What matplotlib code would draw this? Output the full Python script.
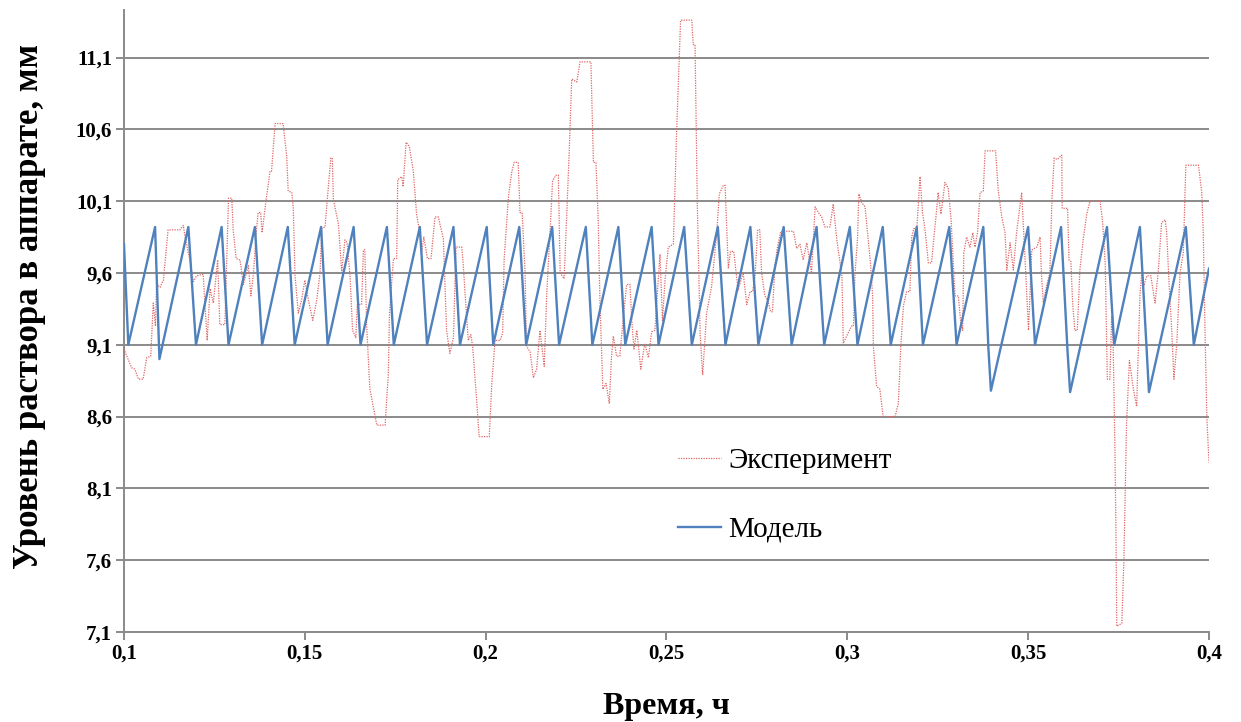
import matplotlib
matplotlib.use("Agg")
import matplotlib.pyplot as plt
from matplotlib.ticker import FuncFormatter

plt.rcParams['font.family'] = 'Liberation Serif'

# Экспериментальный уровень (время, ч / уровень, мм)
exp_t = [0.1000, 0.1021, 0.1030, 0.1040, 0.1053, 0.1063, 0.1074, 0.1081, 0.1087, 0.1090,
         0.1100, 0.1109, 0.1122, 0.1155, 0.1164, 0.1169, 0.1182, 0.1192, 0.1201, 0.1219,
         0.1230, 0.1238, 0.1247, 0.1259, 0.1265, 0.1279, 0.1289, 0.1298, 0.1302, 0.1310,
         0.1321, 0.1330, 0.1344, 0.1351, 0.1358, 0.1367, 0.1371, 0.1378, 0.1382, 0.1392,
         0.1404, 0.1408, 0.1418, 0.1440, 0.1450, 0.1454, 0.1464, 0.1468, 0.1473, 0.1482,
         0.1491, 0.1500, 0.1510, 0.1522, 0.1533, 0.1542, 0.1547, 0.1556, 0.1562, 0.1572,
         0.1576, 0.1579, 0.1593, 0.1602, 0.1611, 0.1617, 0.1625, 0.1632, 0.1641, 0.1645,
         0.1657, 0.1662, 0.1666, 0.1671, 0.1680, 0.1699, 0.1722, 0.1731, 0.1734, 0.1745,
         0.1754, 0.1757, 0.1768, 0.1772, 0.1780, 0.1789, 0.1800, 0.1809, 0.1818, 0.1823,
         0.1829, 0.1839, 0.1849, 0.1860, 0.1869, 0.1883, 0.1892, 0.1901, 0.1911, 0.1918,
         0.1934, 0.1938, 0.1943, 0.1952, 0.1959, 0.1964, 0.1975, 0.1982, 0.2010, 0.2017,
         0.2026, 0.2040, 0.2047, 0.2051, 0.2063, 0.2072, 0.2079, 0.2090, 0.2095, 0.2101,
         0.2109, 0.2113, 0.2123, 0.2132, 0.2141, 0.2150, 0.2162, 0.2169, 0.2178, 0.2185,
         0.2194, 0.2201, 0.2206, 0.2217, 0.2224, 0.2231, 0.2238, 0.2252, 0.2261, 0.2291,
         0.2298, 0.2305, 0.2311, 0.2316, 0.2324, 0.2333, 0.2342, 0.2348, 0.2353, 0.2362,
         0.2371, 0.2381, 0.2390, 0.2399, 0.2404, 0.2410, 0.2418, 0.2429, 0.2440, 0.2450,
         0.2459, 0.2468, 0.2482, 0.2489, 0.2496, 0.2505, 0.2519, 0.2528, 0.2539, 0.2570,
         0.2574, 0.2579, 0.2585, 0.2593, 0.2600, 0.2611, 0.2625, 0.2639, 0.2646, 0.2657,
         0.2662, 0.2671, 0.2677, 0.2686, 0.2698, 0.2712, 0.2722, 0.2731, 0.2738, 0.2745,
         0.2752, 0.2758, 0.2763, 0.2772, 0.2780, 0.2788, 0.2793, 0.2800, 0.2806, 0.2816,
         0.2851, 0.2860, 0.2869, 0.2878, 0.2888, 0.2901, 0.2911, 0.2920, 0.2929, 0.2938,
         0.2952, 0.2961, 0.2971, 0.2985, 0.2989, 0.2998, 0.3012, 0.3017, 0.3021, 0.3028,
         0.3032, 0.3040, 0.3049, 0.3058, 0.3064, 0.3070, 0.3072, 0.3081, 0.3090, 0.3099,
         0.3132, 0.3141, 0.3148, 0.3155, 0.3164, 0.3173, 0.3178, 0.3184, 0.3192, 0.3201,
         0.3208, 0.3215, 0.3224, 0.3233, 0.3238, 0.3247, 0.3251, 0.3259, 0.3270, 0.3279,
         0.3287, 0.3293, 0.3298, 0.3307, 0.3313, 0.3319, 0.3322, 0.3330, 0.3339, 0.3347,
         0.3353, 0.3360, 0.3367, 0.3376, 0.3381, 0.3410, 0.3417, 0.3427, 0.3436, 0.3441,
         0.3450, 0.3459, 0.3468, 0.3482, 0.3491, 0.3501, 0.3510, 0.3524, 0.3533, 0.3537,
         0.3542, 0.3551, 0.3560, 0.3566, 0.3572, 0.3580, 0.3593, 0.3594, 0.3609, 0.3613,
         0.3618, 0.3623, 0.3629, 0.3636, 0.3643, 0.3652, 0.3662, 0.3671, 0.3699, 0.3706,
         0.3713, 0.3719, 0.3726, 0.3731, 0.3735, 0.3740, 0.3743, 0.3745, 0.3759, 0.3765,
         0.3772, 0.3780, 0.3791, 0.3800, 0.3809, 0.3814, 0.3820, 0.3828, 0.3839, 0.3851,
         0.3860, 0.3869, 0.3879, 0.3883, 0.3890, 0.3897, 0.3903, 0.3911, 0.3920, 0.3929,
         0.3936, 0.3971, 0.3980, 0.3984, 0.3989, 0.3994, 0.4000]
exp_level = [9.07, 8.94, 8.93, 8.86, 8.86, 9.01, 9.02, 9.39, 9.23, 9.52,
             9.50, 9.55, 9.90, 9.90, 9.93, 9.85, 9.69, 9.54, 9.58, 9.59,
             9.13, 9.49, 9.39, 9.69, 9.24, 9.24, 10.12, 10.12, 9.90, 9.70,
             9.69, 9.52, 9.65, 9.44, 9.60, 9.92, 10.02, 10.02, 9.88, 10.09,
             10.31, 10.31, 10.64, 10.64, 10.41, 10.17, 10.16, 10.06, 9.58, 9.32,
             9.41, 9.55, 9.41, 9.27, 9.41, 9.60, 9.91, 9.92, 10.11, 10.40,
             10.40, 10.11, 9.94, 9.61, 9.83, 9.81, 9.58, 9.20, 9.15, 9.38,
             9.38, 9.76, 9.76, 9.23, 8.79, 8.54, 8.54, 8.90, 9.31, 9.70,
             9.70, 10.25, 10.27, 10.20, 10.51, 10.48, 10.31, 10.01, 9.88, 9.74,
             9.85, 9.70, 9.70, 9.99, 9.99, 9.84, 9.20, 9.04, 9.15, 9.78,
             9.78, 9.66, 9.46, 9.13, 9.17, 9.09, 8.72, 8.46, 8.46, 8.83,
             9.13, 9.13, 9.18, 9.69, 10.13, 10.30, 10.37, 10.37, 10.02, 10.02,
             9.60, 9.09, 9.05, 8.87, 8.93, 9.20, 8.95, 9.46, 9.88, 10.24,
             10.28, 10.28, 9.60, 9.56, 9.99, 10.44, 10.95, 10.93, 11.07, 11.07,
             10.37, 10.37, 9.99, 9.41, 8.79, 8.83, 8.69, 9.02, 9.16, 9.02,
             9.02, 9.30, 9.52, 9.52, 9.27, 9.07, 9.20, 8.93, 9.11, 9.01,
             9.19, 9.20, 9.73, 9.27, 9.55, 9.78, 9.80, 10.58, 11.36, 11.36,
             11.19, 11.19, 10.11, 9.18, 8.89, 9.32, 9.51, 9.88, 10.15, 10.21,
             10.21, 9.63, 9.75, 9.75, 9.48, 9.60, 9.38, 9.47, 9.47, 9.58,
             9.90, 9.90, 9.60, 9.44, 9.41, 9.33, 9.33, 9.65, 9.77, 9.89,
             9.89, 9.77, 9.80, 9.69, 9.81, 9.60, 10.06, 10.02, 9.99, 9.92,
             9.92, 10.08, 9.83, 9.58, 9.11, 9.16, 9.23, 9.23, 9.58, 9.83,
             10.15, 10.09, 10.06, 9.83, 9.67, 9.44, 9.09, 8.81, 8.79, 8.60,
             8.60, 8.69, 9.09, 9.37, 9.47, 9.47, 9.85, 9.91, 9.90, 10.27,
             10.02, 9.90, 9.67, 9.67, 9.81, 10.04, 10.16, 10.01, 10.23, 10.19,
             9.97, 9.67, 9.44, 9.44, 9.27, 9.20, 9.74, 9.85, 9.78, 9.88,
             9.78, 9.88, 10.16, 10.17, 10.45, 10.45, 10.18, 9.99, 9.88, 9.62,
             9.81, 9.62, 9.88, 10.16, 9.72, 9.20, 9.76, 9.78, 9.85, 9.58,
             9.39, 9.51, 9.60, 10.13, 10.40, 10.39, 10.42, 10.05, 10.05, 9.69,
             9.68, 9.39, 9.20, 9.20, 9.62, 9.83, 10.01, 10.10, 10.10, 9.95,
             9.67, 8.86, 8.86, 9.30, 9.11, 8.37, 7.74, 7.14, 7.16, 7.62,
             8.55, 8.99, 8.79, 8.67, 9.44, 9.60, 9.51, 9.58, 9.58, 9.39,
             9.62, 9.95, 9.97, 9.88, 9.51, 9.20, 8.86, 9.11, 9.60, 9.74,
             10.35, 10.35, 10.16, 9.90, 9.20, 8.60, 8.28]

# Расчётный уровень по модели (вершины пилообразного сигнала)
model_t = [0.1000, 0.1012, 0.1086, 0.1098, 0.1178, 0.1199, 0.1270, 0.1289, 0.1362, 0.1382,
           0.1453, 0.1472, 0.1545, 0.1563, 0.1635, 0.1654, 0.1727, 0.1746, 0.1818, 0.1838,
           0.1911, 0.1929, 0.2003, 0.2021, 0.2093, 0.2112, 0.2184, 0.2203, 0.2277, 0.2295,
           0.2367, 0.2386, 0.2459, 0.2478, 0.2549, 0.2570, 0.2642, 0.2663, 0.2732, 0.2754,
           0.2824, 0.2846, 0.2915, 0.2936, 0.3007, 0.3028, 0.3098, 0.3120, 0.3192, 0.3209,
           0.3282, 0.3302, 0.3376, 0.3390, 0.3397, 0.3500, 0.3519, 0.3591, 0.3609, 0.3616,
           0.3718, 0.3738, 0.3809, 0.3828, 0.3834, 0.3936, 0.3958, 0.4000]
model_level = [9.80, 9.10, 9.92, 9.00, 9.92, 9.10, 9.92, 9.10, 9.92, 9.10,
               9.92, 9.10, 9.92, 9.10, 9.92, 9.10, 9.92, 9.10, 9.92, 9.10,
               9.92, 9.10, 9.92, 9.10, 9.92, 9.10, 9.92, 9.10, 9.92, 9.10,
               9.92, 9.10, 9.92, 9.10, 9.92, 9.10, 9.92, 9.10, 9.92, 9.10,
               9.92, 9.10, 9.92, 9.10, 9.92, 9.10, 9.92, 9.10, 9.92, 9.10,
               9.92, 9.10, 9.92, 9.08, 8.78, 9.92, 9.10, 9.92, 9.05, 8.77,
               9.92, 9.10, 9.92, 9.05, 8.77, 9.92, 9.10, 9.63]

x_ticks = [0.1, 0.15, 0.2, 0.25, 0.3, 0.35, 0.4]
y_ticks = [7.1, 7.6, 8.1, 8.6, 9.1, 9.6, 10.1, 10.6, 11.1]

fig = plt.figure(figsize=(12.41, 7.22), dpi=100)
ax = fig.add_axes([0.0999, 0.1247, 0.8743, 0.8613])

grid_color = '#8a8a8a'
ax.plot(exp_t, exp_level, color='#e06666', lw=0.9, ls=(0, (1, 1)), label='Эксперимент', zorder=3)
ax.plot(model_t, model_level, color='#4f81bd', lw=1.7, label='Модель', zorder=4)

ax.set_xlim(0.1, 0.4)
ax.set_ylim(7.1, 11.43)
ax.set_xticks(x_ticks)
ax.set_yticks(y_ticks)
comma = FuncFormatter(lambda v, pos: f"{v:g}".replace('.', ','))
ax.xaxis.set_major_formatter(comma)
ax.yaxis.set_major_formatter(comma)

ax.yaxis.grid(True, color=grid_color, lw=1.4)
ax.set_axisbelow(True)
for side in ['top', 'right']:
    ax.spines[side].set_visible(False)
for side in ['left', 'bottom']:
    ax.spines[side].set_color(grid_color)
    ax.spines[side].set_linewidth(1.4)
ax.tick_params(axis='both', direction='out', length=5.5, width=1.4, color=grid_color,
               labelsize=15, pad=3)
for lbl in ax.get_xticklabels() + ax.get_yticklabels():
    lbl.set_fontweight('bold')

ax.set_xlabel('Время, ч', fontsize=23, fontweight='bold', labelpad=20)
ax.set_ylabel('Уровень раствора в аппарате, мм', fontsize=25, fontweight='bold')
ax.yaxis.set_label_coords(-0.072, 0.524)

ax.legend(loc='center left', bbox_to_anchor=(0.511, 0.220), frameon=False, fontsize=21,
          handlelength=1.45, handletextpad=0.25, labelspacing=1.46,
          borderpad=0, borderaxespad=0)

fig.savefig('out.png', dpi=100)
